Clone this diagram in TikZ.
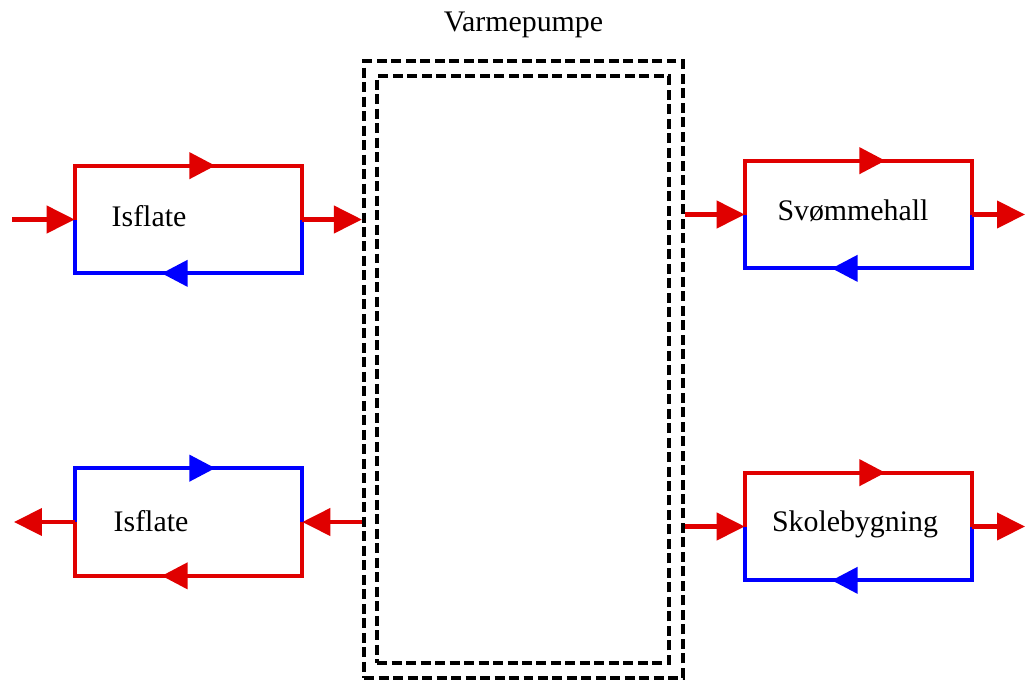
\documentclass[tikz,border=0pt]{standalone}
\usepackage{fontspec}
\setmainfont{Liberation Serif}
\usetikzlibrary{arrows.meta, positioning, decorations.markings}
\definecolor{clrHot}{HTML}{E00000}
\definecolor{clrCold}{HTML}{0000FF}

\begin{document}
\begin{tikzpicture}[
    x=0.02cm, y=-0.02cm,
    loopbox/.style={rectangle, minimum width=4.54cm, minimum height=2.14cm, inner sep=0pt},
    tag/.style={font=\fontsize{17}{20}\selectfont, inner sep=1pt, anchor=base},
    pumpbox/.style={rectangle, draw=black, dash pattern=on 0.2cm off 0.09cm, line width=0.085cm, inner sep=0pt},
    pipe/.style={line width=0.085cm},
    midarrow/.style={postaction={decorate}, decoration={markings, mark=at position 0.58 with {\arrow{Triangle[length=0.52cm, width=0.52cm]}}}},
    feed/.style={-{Triangle[length=0.56cm, width=0.54cm]}, line width=0.085cm, clrHot},
]

\useasboundingbox (0,0) rectangle (1025,681);

% Heat pump casing
\node[pumpbox, minimum width=6.38cm, minimum height=12.34cm] (pump) at (523.5,369.5) {};
\node[pumpbox, minimum width=5.84cm, minimum height=11.74cm] (pumpcore) at (523,369.5) {};
\node[tag] (pumptxt) at (523.5,31) {Varmepumpe};

% Circuits
\node[loopbox] (rinkA) at (188.5,219.5) {};
\node[loopbox] (rinkB) at (188.5,522) {};
\node[loopbox] (pool) at (858.5,214.5) {};
\node[loopbox] (school) at (858.5,526.5) {};

\node[tag] (rinkAtxt) at (149,226) {Isflate};
\node[tag] (rinkBtxt) at (151,531.5) {Isflate};
\node[tag] (pooltxt) at (853,220.5) {Svømmehall};
\node[tag] (schooltxt) at (855,531.5) {Skolebygning};

% Loop pipes: upper half / lower half
\draw[pipe, clrHot, midarrow] (rinkA.west) -- (rinkA.north west) -- (rinkA.north east) -- (rinkA.east);
\draw[pipe, clrCold, midarrow] (rinkA.east) -- (rinkA.south east) -- (rinkA.south west) -- (rinkA.west);

\draw[pipe, clrCold, midarrow] (rinkB.west) -- (rinkB.north west) -- (rinkB.north east) -- (rinkB.east);
\draw[pipe, clrHot, midarrow] (rinkB.east) -- (rinkB.south east) -- (rinkB.south west) -- (rinkB.west);

\draw[pipe, clrHot, midarrow] (pool.west) -- (pool.north west) -- (pool.north east) -- (pool.east);
\draw[pipe, clrCold, midarrow] (pool.east) -- (pool.south east) -- (pool.south west) -- (pool.west);

\draw[pipe, clrHot, midarrow] (school.west) -- (school.north west) -- (school.north east) -- (school.east);
\draw[pipe, clrCold, midarrow] (school.east) -- (school.south east) -- (school.south west) -- (school.west);

% Feed lines
\coordinate (inA) at (12,219.5);
\coordinate (outB) at (14,522);
\coordinate (outP) at (1025,214.5);
\coordinate (outS) at (1025,526.5);

\draw[feed] (inA) -- (rinkA.west);
\draw[feed] (rinkA.east) -- (rinkA.east -| pump.west);
\draw[feed] (rinkB.east -| pump.west) -- (rinkB.east);
\draw[feed] (rinkB.west) -- (outB);
\draw[feed] (pool.west -| pump.east) -- (pool.west);
\draw[feed] (pool.east) -- (outP);
\draw[feed] (school.west -| pump.east) -- (school.west);
\draw[feed] (school.east) -- (outS);

\end{tikzpicture}
\end{document}
